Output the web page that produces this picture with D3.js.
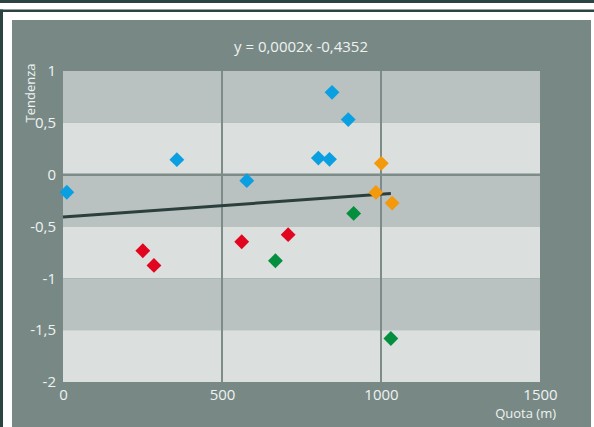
<!DOCTYPE html>
<html>
<head>
<meta charset="utf-8">
<script src="https://cdn.jsdelivr.net/npm/d3@7"></script>
<style>
  body { margin: 0; background: #ffffff; }
  svg { display: block; font-family: "Open Sans", "DejaVu Sans", sans-serif; }
</style>
</head>
<body>
<div id="chart-container"></div>
<script>
// altitude (m) and trend values, one array per group
const blueQuota = [12, 358, 578, 846, 897, 803, 838]
const blueTrend = [-0.17, 0.145, -0.058, 0.794, 0.531, 0.16, 0.148]
const orangeQuota = [1001, 984, 1035]
const orangeTrend = [0.109, -0.171, -0.274]
const greenQuota = [914, 668, 1031]
const greenTrend = [-0.374, -0.83, -1.58]
const redQuota = [251, 286, 562, 708]
const redTrend = [-0.734, -0.875, -0.647, -0.579]

const xTicks = [0, 500, 1000, 1500]
const yTicks = [1, 0.5, 0, -0.5, -1, -1.5, -2]
const titleText = 'y = 0,0002x -0,4352'
const trendSlope = 0.00022
const trendIntercept = -0.409
const trendRange = [0, 1031]

const W = 594, H = 427
const margin = {top: 71, right: 54, bottom: 45, left: 63}
const width = W - margin.left - margin.right
const height = H - margin.top - margin.bottom

const root = d3.select('#chart-container').append('svg')
    .attr('width', W).attr('height', H)

// outer frame
root.append('rect').attr('x', 0).attr('y', 0).attr('width', W).attr('height', 3).attr('fill', '#2c4441')
root.append('rect').attr('x', 0).attr('y', 9.5).attr('width', W).attr('height', 2.5).attr('fill', '#2c4441')
root.append('rect').attr('x', 0).attr('y', 9.5).attr('width', 3).attr('height', H).attr('fill', '#2c4441')
root.append('rect').attr('x', 12).attr('y', 20).attr('width', 579).attr('height', H - 20).attr('fill', '#788985')

const svg = root.append('g').attr('transform', `translate(${margin.left},${margin.top})`)

const x = d3.scaleLinear().domain([0, 1500]).range([0, width])
const y = d3.scaleLinear().domain([-2, 1]).range([height, 0])

const fmt = d => String(d).replace('.', ',')

// alternating bands
const bands = d3.pairs(yTicks)
svg.selectAll('.band').data(bands).join('rect')
    .attr('class', 'band')
    .attr('x', 0).attr('width', width)
    .attr('y', d => y(d[0])).attr('height', d => y(d[1]) - y(d[0]))
    .attr('fill', (d, i) => i % 2 === 0 ? '#b9c2c0' : '#dbdfde')

// gridlines
svg.selectAll('.vgrid').data([500, 1000]).join('line')
    .attr('x1', d => x(d)).attr('x2', d => x(d))
    .attr('y1', 0).attr('y2', height)
    .attr('stroke', '#7d8c89').attr('stroke-width', 2)
svg.append('line')
    .attr('x1', 0).attr('x2', width)
    .attr('y1', y(0)).attr('y2', y(0))
    .attr('stroke', '#7d8c89').attr('stroke-width', 2.5)

// axes
const xAxis = svg.append('g')
    .attr('transform', `translate(0,${height})`)
    .call(d3.axisBottom(x).tickValues(xTicks).tickFormat(fmt).tickSize(0).tickPadding(7))
const yAxis = svg.append('g')
    .call(d3.axisLeft(y).tickValues(yTicks).tickFormat(fmt).tickSize(0).tickPadding(7))
;[xAxis, yAxis].forEach(a => {
    a.select('.domain').remove()
    a.selectAll('text').attr('fill', '#eef2f1').style('font-size', '15px')
        .style('font-family', '"Open Sans", sans-serif')
})

// trend line
svg.append('line')
    .attr('x1', x(trendRange[0])).attr('y1', y(trendSlope * trendRange[0] + trendIntercept))
    .attr('x2', x(trendRange[1])).attr('y2', y(trendSlope * trendRange[1] + trendIntercept))
    .attr('stroke', '#2b3f3c').attr('stroke-width', 3)

// points
const groups = [
    {qx: blueQuota, qy: blueTrend, color: '#0a9fe0'},
    {qx: orangeQuota, qy: orangeTrend, color: '#f4980c'},
    {qx: greenQuota, qy: greenTrend, color: '#038f3e'},
    {qx: redQuota, qy: redTrend, color: '#e1051f'}
]
const diamond = d3.symbol().type(d3.symbolSquare).size(110)
groups.forEach(g => {
    svg.selectAll(null).data(g.qx.map((v, i) => [v, g.qy[i]])).join('path')
        .attr('d', diamond)
        .attr('transform', d => `translate(${x(d[0])},${y(d[1])}) rotate(45)`)
        .attr('fill', g.color)
})

// texts
root.append('text').attr('x', 301).attr('y', 52).attr('text-anchor', 'middle')
    .attr('fill', '#eef2f1').style('font-size', '15px').text(titleText)
root.append('text')
    .attr('transform', 'translate(35,93) rotate(-90)')
    .attr('text-anchor', 'middle')
    .attr('fill', '#eef2f1').style('font-size', '13px').text('Tendenza')
root.append('text').attr('x', 556).attr('y', 418).attr('text-anchor', 'end')
    .attr('fill', '#eef2f1').style('font-size', '13px').text('Quota (m)')
</script>
</body>
</html>
